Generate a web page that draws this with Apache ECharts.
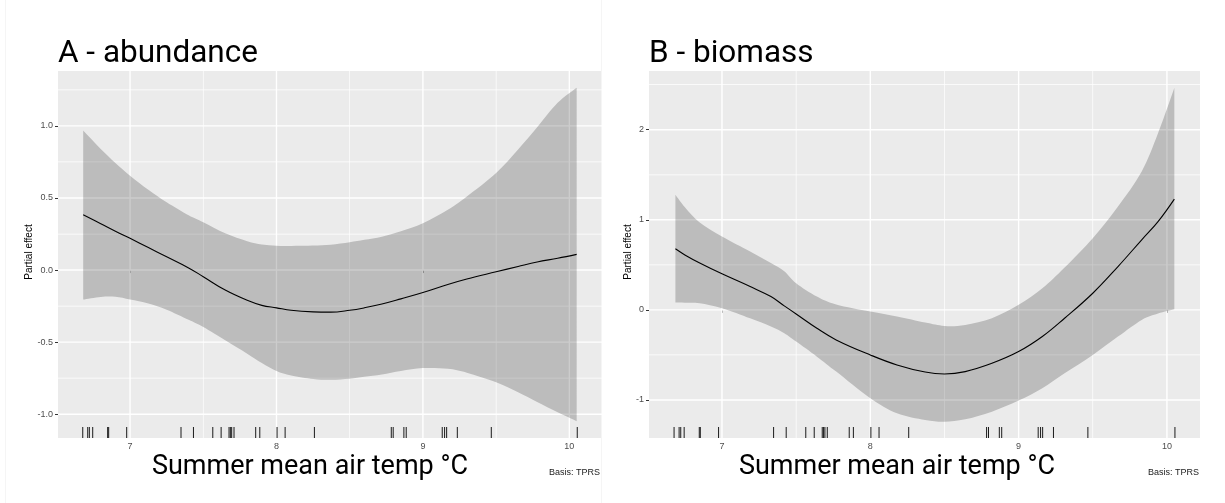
<!DOCTYPE html>
<html>
<head>
<meta charset="utf-8">
<script src="https://cdn.jsdelivr.net/npm/echarts@6/dist/echarts.min.js"></script>
<style>
html, body { margin: 0; padding: 0; background: #fff; }
#chart { width: 1225px; height: 503px; }
</style>
</head>
<body>
<div id="chart"></div>
<script>
// A - abundance: smooth of summer air temp, with confidence band
const xA = [6.68, 6.8, 6.9, 7.0, 7.125, 7.25, 7.4, 7.5, 7.65, 7.8, 7.9, 8.0, 8.1, 8.25, 8.37, 8.5, 8.6, 8.72, 8.85, 9.0, 9.17, 9.3, 9.5, 9.65, 9.78, 9.92, 10.05];
const fitA = [0.383, 0.322, 0.27, 0.22, 0.156, 0.092, 0.015, -0.046, -0.139, -0.21, -0.245, -0.262, -0.279, -0.29, -0.292, -0.279, -0.262, -0.236, -0.2, -0.156, -0.1, -0.062, -0.012, 0.025, 0.056, 0.082, 0.109];
const upperA = [0.968, 0.84, 0.743, 0.655, 0.557, 0.47, 0.38, 0.332, 0.255, 0.2, 0.177, 0.168, 0.167, 0.17, 0.176, 0.193, 0.21, 0.232, 0.27, 0.325, 0.418, 0.51, 0.673, 0.836, 0.99, 1.16, 1.265];
const lowerA = [-0.204, -0.186, -0.185, -0.204, -0.232, -0.275, -0.345, -0.395, -0.487, -0.58, -0.645, -0.7, -0.731, -0.755, -0.761, -0.754, -0.74, -0.724, -0.7, -0.68, -0.685, -0.712, -0.778, -0.847, -0.915, -0.987, -1.049];

// B - biomass
const xB = [6.686, 6.75, 6.85, 7.0, 7.19, 7.33, 7.42, 7.5, 7.64, 7.77, 8.0, 8.18, 8.37, 8.5, 8.64, 8.82, 9.0, 9.16, 9.31, 9.5, 9.67, 9.83, 9.94, 10.05];
const fitB = [0.678, 0.61, 0.52, 0.4, 0.259, 0.148, 0.045, -0.045, -0.204, -0.333, -0.5, -0.611, -0.69, -0.711, -0.685, -0.593, -0.463, -0.296, -0.093, 0.185, 0.481, 0.778, 0.98, 1.23];
const upperB = [1.278, 1.14, 0.97, 0.815, 0.648, 0.52, 0.43, 0.296, 0.148, 0.06, -0.019, -0.074, -0.141, -0.178, -0.167, -0.093, 0.056, 0.24, 0.47, 0.796, 1.148, 1.537, 1.96, 2.463];
const lowerB = [0.081, 0.08, 0.074, 0.019, -0.093, -0.185, -0.259, -0.352, -0.519, -0.685, -0.981, -1.148, -1.222, -1.241, -1.215, -1.13, -1.007, -0.87, -0.704, -0.5, -0.296, -0.111, -0.04, 0.007];

// observed temps (rug), same sites in both panels
const rugX = [6.677, 6.711, 6.722, 6.745, 6.847, 6.854, 6.977, 7.348, 7.433, 7.565, 7.622, 7.676, 7.685, 7.694, 7.71, 7.858, 7.886, 8.004, 8.059, 8.259, 8.784, 8.797, 8.87, 8.886, 9.132, 9.148, 9.162, 9.235, 9.467, 10.054];

const xTicks = [7, 8, 9, 10];
const xMinor = [7.5, 8.5, 9.5];
const yTicksA = [-1, -0.5, 0, 0.5, 1];
const yMinorA = [-0.75, -0.25, 0.25, 0.75, 1.25];
const yTicksB = [-1, 0, 1, 2];
const yMinorB = [-0.5, 0.5, 1.5, 2.5];

const chart = echarts.init(document.getElementById('chart'));

const tickFont = { color: '#4d4d4d', fontSize: 9, fontFamily: 'Liberation Sans, Arial, sans-serif' };

// catmull-rom through pixel points -> bezier path string
function curve(pts) {
  let d = '';
  const n = pts.length;
  for (let i = 0; i < n - 1; i++) {
    const p0 = pts[Math.max(i - 1, 0)], p1 = pts[i], p2 = pts[i + 1], p3 = pts[Math.min(i + 2, n - 1)];
    const c1x = p1[0] + (p2[0] - p0[0]) / 6, c1y = p1[1] + (p2[1] - p0[1]) / 6;
    const c2x = p2[0] - (p3[0] - p1[0]) / 6, c2y = p2[1] - (p3[1] - p1[1]) / 6;
    d += ' C' + c1x + ' ' + c1y + ' ' + c2x + ' ' + c2y + ' ' + p2[0] + ' ' + p2[1];
  }
  return d;
}

function bandSeries(idx, xs, up, lo) {
  return {
    type: 'custom', xAxisIndex: idx, yAxisIndex: idx, z: 3, silent: true,
    data: xs.map((x, i) => [x, up[i], lo[i]]),
    renderItem: function (params, api) {
      if (params.dataIndexInside !== 0) return null;
      const n = params.dataInsideLength;
      const top = [], bot = [];
      for (let i = 0; i < n; i++) {
        top.push(api.coord([api.value(0, i), api.value(1, i)]));
        bot.push(api.coord([api.value(0, i), api.value(2, i)]));
      }
      bot.reverse();
      const d = 'M' + top[0][0] + ' ' + top[0][1] + curve(top) +
        ' L' + bot[0][0] + ' ' + bot[0][1] + curve(bot) + ' Z';
      return { type: 'path', shape: { pathData: d }, style: { fill: 'rgba(0,0,0,0.2)' } };
    }
  };
}

// panel grid: all white lines drawn once, from the tick arrays
function gridSeries(idx, yMajor, yMinor) {
  return {
    type: 'custom', xAxisIndex: idx, yAxisIndex: idx, z: 1, silent: true,
    data: [[8, 0]],
    renderItem: function (params, api) {
      const cs = params.coordSys;
      const kids = [];
      const vline = (v, w) => {
        const px = api.coord([v, 0])[0];
        kids.push({ type: 'rect', shape: { x: px - w / 2, y: cs.y, width: w, height: cs.height }, style: { fill: '#fff' } });
      };
      const hline = (v, w) => {
        const py = api.coord([8, v])[1];
        kids.push({ type: 'rect', shape: { x: cs.x, y: py - w / 2, width: cs.width, height: w }, style: { fill: '#fff' } });
      };
      xMinor.forEach(v => vline(v, 0.7));
      yMinor.forEach(v => hline(v, 0.7));
      xTicks.forEach(v => vline(v, 1.4));
      yMajor.forEach(v => hline(v, 1.4));
      return { type: 'group', children: kids };
    }
  };
}

function rugSeries(idx) {
  return {
    type: 'custom', xAxisIndex: idx, yAxisIndex: idx, z: 4, silent: true,
    data: rugX.map(x => [x, 0]),
    renderItem: function (params, api) {
      const cs = params.coordSys;
      const px = api.coord([api.value(0), 0])[0];
      const b = cs.y + cs.height;
      return { type: 'rect', shape: { x: px - 0.5, y: b - 11, width: 1, height: 11 }, style: { fill: '#1a1a1a' } };
    }
  };
}

function fitSeries(idx, xs, fit) {
  return {
    type: 'line', xAxisIndex: idx, yAxisIndex: idx, z: 5, silent: true,
    data: xs.map((x, i) => [x, fit[i]]),
    smooth: 0.4, symbol: 'none', showSymbol: false,
    lineStyle: { color: '#000', width: 1.1 }
  };
}

function xAxisOpt(idx) {
  return {
    type: 'value', gridIndex: idx, min: 6.508, max: 10.223,
    axisLine: { show: false },
    axisTick: { show: true, customValues: xTicks, length: 3, lineStyle: { color: '#333', width: 1 } },
    axisLabel: Object.assign({ customValues: xTicks, margin: 4, formatter: v => String(v) }, tickFont),
    splitLine: { show: false }
  };
}

function yAxisOpt(idx, min, max, ticks, dec) {
  return {
    type: 'value', gridIndex: idx, min: min, max: max,
    axisLine: { show: false },
    axisTick: { show: true, customValues: ticks, length: 3, lineStyle: { color: '#333', width: 1 } },
    axisLabel: Object.assign({ customValues: ticks, margin: 5, formatter: v => v.toFixed(dec) }, tickFont),
    splitLine: { show: false }
  };
}

const titleFont = { fontFamily: 'Roboto, sans-serif', fill: '#000' };
const smallFont = 'Liberation Sans, Arial, sans-serif';

chart.setOption({
  animation: false,
  backgroundColor: '#ffffff',
  grid: [
    { left: 58, top: 71, width: 544, height: 367, show: true, backgroundColor: '#ebebeb', borderWidth: 0 },
    { left: 649, top: 71, width: 551, height: 367, show: true, backgroundColor: '#ebebeb', borderWidth: 0 }
  ],
  xAxis: [xAxisOpt(0), xAxisOpt(1)],
  yAxis: [
    yAxisOpt(0, -1.165, 1.381, yTicksA, 1),
    yAxisOpt(1, -1.422, 2.652, yTicksB, 0)
  ],
  graphic: [
    // faint frame edges of the two source figures
    { type: 'line', shape: { x1: 5.5, y1: 0, x2: 5.5, y2: 503 }, style: { stroke: '#f5f5f5', lineWidth: 1 } },
    { type: 'line', shape: { x1: 601.5, y1: 0, x2: 601.5, y2: 503 }, style: { stroke: '#f5f5f5', lineWidth: 1 } },
    { type: 'text', x: 58, y: 54.5, style: Object.assign({ text: 'A - abundance', fontSize: 31.5, verticalAlign: 'middle' }, titleFont) },
    { type: 'text', x: 649, y: 54.5, style: Object.assign({ text: 'B - biomass', fontSize: 31.5, verticalAlign: 'middle' }, titleFont) },
    { type: 'text', x: 310, y: 467, style: Object.assign({ text: 'Summer mean air temp °C', fontSize: 27, align: 'center', verticalAlign: 'middle' }, titleFont) },
    { type: 'text', x: 897, y: 467, style: Object.assign({ text: 'Summer mean air temp °C', fontSize: 27, align: 'center', verticalAlign: 'middle' }, titleFont) },
    { type: 'text', x: 29, y: 252, rotation: Math.PI / 2, style: { text: 'Partial effect', fontSize: 10, fontFamily: smallFont, fill: '#000', align: 'center', verticalAlign: 'middle' } },
    { type: 'text', x: 628, y: 252, rotation: Math.PI / 2, style: { text: 'Partial effect', fontSize: 10, fontFamily: smallFont, fill: '#000', align: 'center', verticalAlign: 'middle' } },
    { type: 'text', x: 600, y: 473, style: { text: 'Basis: TPRS', fontSize: 9, fontFamily: smallFont, fill: '#222', align: 'right', verticalAlign: 'middle' } },
    { type: 'text', x: 1199, y: 473, style: { text: 'Basis: TPRS', fontSize: 9, fontFamily: smallFont, fill: '#222', align: 'right', verticalAlign: 'middle' } }
  ],
  series: [
    gridSeries(0, yTicksA, yMinorA),
    bandSeries(0, xA, upperA, lowerA),
    fitSeries(0, xA, fitA),
    rugSeries(0),
    gridSeries(1, yTicksB, yMinorB),
    bandSeries(1, xB, upperB, lowerB),
    fitSeries(1, xB, fitB),
    rugSeries(1)
  ]
});
</script>
</body>
</html>
